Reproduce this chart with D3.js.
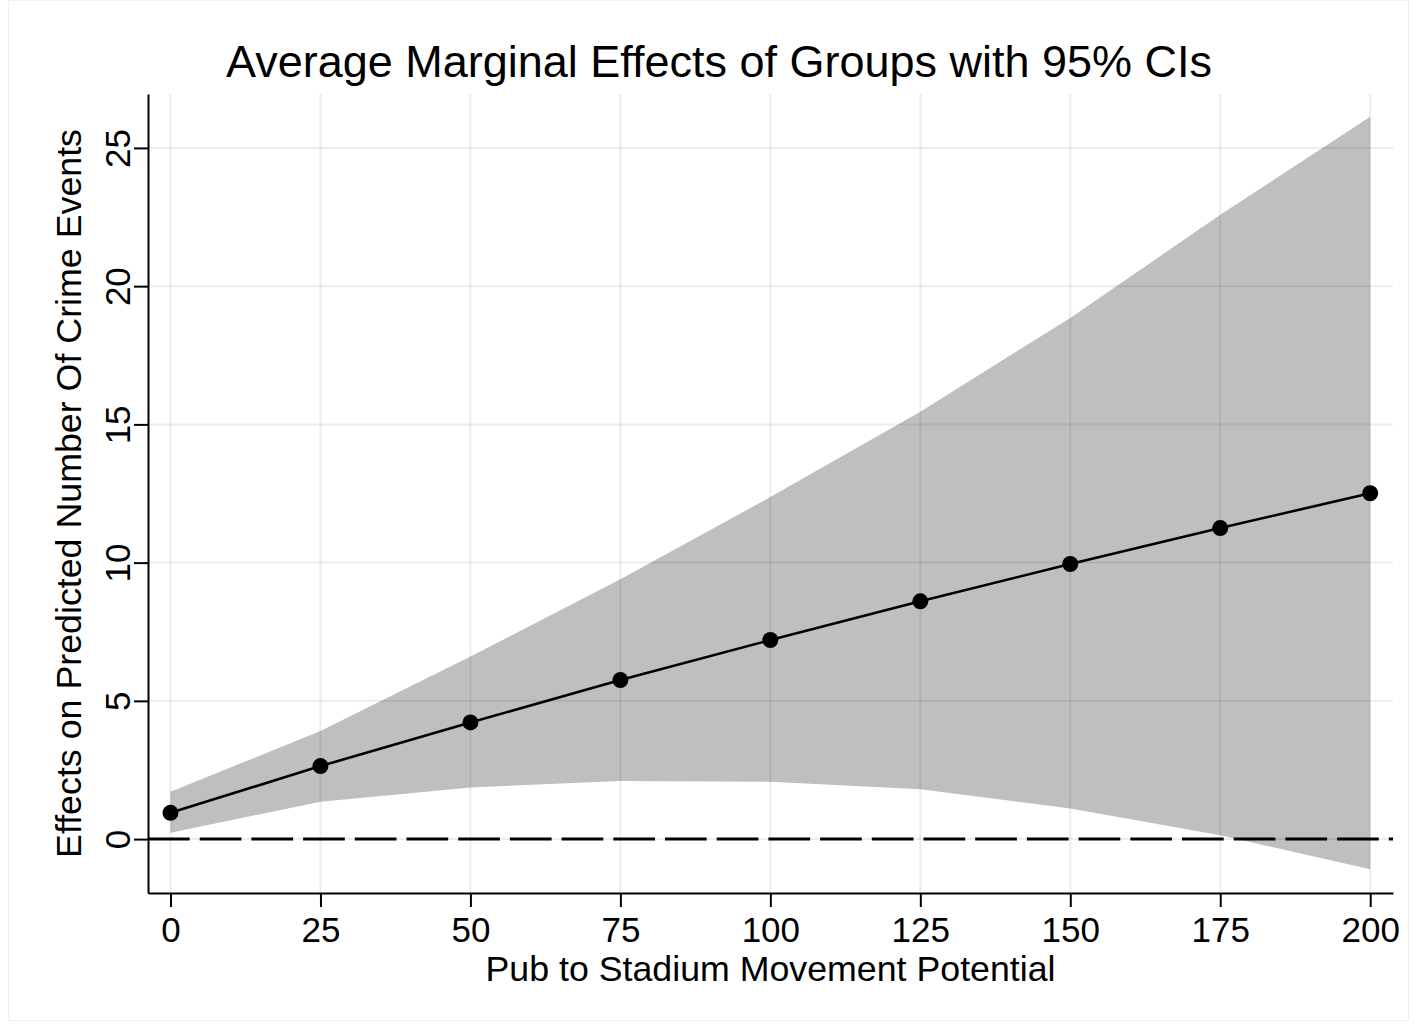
<!DOCTYPE html>
<html>
<head>
<meta charset="utf-8">
<script src="https://cdn.jsdelivr.net/npm/d3@7"></script>
<style>
  body { margin: 0; background: #fff; }
  text { font-family: "Liberation Sans", Arial, Helvetica, sans-serif; fill: #000; }
</style>
</head>
<body>
<div id="chart"></div>
<script>
(function(d3) {
    'use strict';

    // Data
    var movement = [0, 25, 50, 75, 100, 125, 150, 175, 200];
    var effects = [0.95, 2.64, 4.22, 5.75, 7.2, 8.6, 9.95, 11.25, 12.51];
    var ciLower = [0.23, 1.35, 1.87, 2.1, 2.07, 1.8, 1.11, 0.14, -1.09];
    var ciUpper = [1.71, 3.91, 6.6, 9.4, 12.37, 15.46, 18.85, 22.58, 26.13];
    var xTicks = [0, 25, 50, 75, 100, 125, 150, 175, 200];
    var yTicks = [0, 5, 10, 15, 20, 25];

    var titleText = 'Average Marginal Effects of Groups with 95% CIs';
    var xLabel = 'Pub to Stadium Movement Potential';
    var yLabel = 'Effects on Predicted Number Of Crime Events';

    // Layout
    var width = 1416;
    var height = 1028;
    var left = 148, right = 1393, top = 94, bottom = 893;
    var tickLen = 14;
    var fontSize = 35;

    var svg = d3.select('#chart')
        .append('svg')
        .attr('width', width)
        .attr('height', height);

    // faint outer frame
    svg.append('rect')
        .attr('x', 8.5).attr('y', 0.5)
        .attr('width', 1400).attr('height', 1020)
        .attr('fill', 'none')
        .attr('stroke', '#f0f0f0');

    // Scales
    var x = d3.scaleLinear().domain([-3.75, 203.8]).range([left, right]);
    var y = d3.scaleLinear().domain([-1.95, 26.95]).range([bottom, top]);

    var rows = movement.map(function(m, i) {
        return { x: m, y: effects[i], lo: ciLower[i], hi: ciUpper[i] };
    });

    // Confidence band
    var area = d3.area()
        .x(function(d) { return x(d.x); })
        .y0(function(d) { return y(d.lo); })
        .y1(function(d) { return y(d.hi); });

    svg.append('path')
        .datum(rows)
        .attr('d', area)
        .attr('fill', '#bfbfbf');

    // Gridlines (drawn over the band, slightly darkening it)
    svg.append('g')
        .selectAll('line')
        .data(xTicks)
        .enter()
        .append('line')
        .attr('x1', function(d) { return x(d); })
        .attr('x2', function(d) { return x(d); })
        .attr('y1', top)
        .attr('y2', bottom)
        .attr('stroke', 'rgba(0,0,0,0.075)')
        .attr('stroke-width', 2);

    svg.append('g')
        .selectAll('line')
        .data(yTicks)
        .enter()
        .append('line')
        .attr('x1', left)
        .attr('x2', right)
        .attr('y1', function(d) { return y(d); })
        .attr('y2', function(d) { return y(d); })
        .attr('stroke', 'rgba(0,0,0,0.075)')
        .attr('stroke-width', 2);

    // Zero reference line
    svg.append('line')
        .attr('x1', left)
        .attr('x2', right)
        .attr('y1', y(0))
        .attr('y2', y(0))
        .attr('stroke', '#000')
        .attr('stroke-width', 3)
        .attr('stroke-dasharray', '41.7,10');

    // Effect line + markers
    var line = d3.line()
        .x(function(d) { return x(d.x); })
        .y(function(d) { return y(d.y); });

    svg.append('path')
        .datum(rows)
        .attr('d', line)
        .attr('fill', 'none')
        .attr('stroke', '#000')
        .attr('stroke-width', 2.6);

    svg.append('g')
        .selectAll('circle')
        .data(rows)
        .enter()
        .append('circle')
        .attr('cx', function(d) { return x(d.x); })
        .attr('cy', function(d) { return y(d.y); })
        .attr('r', 8)
        .attr('fill', '#000');

    // X axis
    var xAxis = svg.append('g')
        .attr('transform', 'translate(0,' + bottom + ')')
        .call(d3.axisBottom(x).tickValues(xTicks).tickSize(tickLen).tickSizeOuter(0).tickPadding(14));
    xAxis.select('.domain').attr('stroke-width', 2);
    xAxis.selectAll('.tick line').attr('stroke-width', 2);
    xAxis.selectAll('.tick text')
        .attr('font-size', fontSize)
        .attr('font-family', '"Liberation Sans", Arial, sans-serif')
        .attr('fill', '#000')
        .attr('dy', null)
        .attr('y', 49);

    // Y axis
    var yAxis = svg.append('g')
        .attr('transform', 'translate(' + left + ',0)')
        .call(d3.axisLeft(y).tickValues(yTicks).tickSize(tickLen).tickSizeOuter(0));
    yAxis.select('.domain').attr('stroke-width', 2);
    yAxis.selectAll('.tick line').attr('stroke-width', 2);
    yAxis.selectAll('.tick text')
        .attr('font-size', fontSize)
        .attr('font-family', '"Liberation Sans", Arial, sans-serif')
        .attr('fill', '#000')
        .attr('x', null)
        .attr('dy', null)
        .attr('text-anchor', 'middle')
        .attr('transform', 'translate(-18,0) rotate(-90)');

    // Title and axis labels
    svg.append('text')
        .attr('x', 719)
        .attr('y', 77)
        .attr('text-anchor', 'middle')
        .attr('font-size', 44)
        .attr('textLength', 986)
        .attr('lengthAdjust', 'spacingAndGlyphs')
        .text(titleText);

    svg.append('text')
        .attr('x', (left + right) / 2)
        .attr('y', 981)
        .attr('text-anchor', 'middle')
        .attr('font-size', fontSize)
        .attr('textLength', 570)
        .attr('lengthAdjust', 'spacingAndGlyphs')
        .text(xLabel);

    svg.append('text')
        .attr('transform', 'translate(81,' + ((top + bottom) / 2) + ') rotate(-90)')
        .attr('text-anchor', 'middle')
        .attr('font-size', fontSize)
        .attr('textLength', 729)
        .attr('lengthAdjust', 'spacingAndGlyphs')
        .text(yLabel);

})(window.d3);
</script>
</body>
</html>
